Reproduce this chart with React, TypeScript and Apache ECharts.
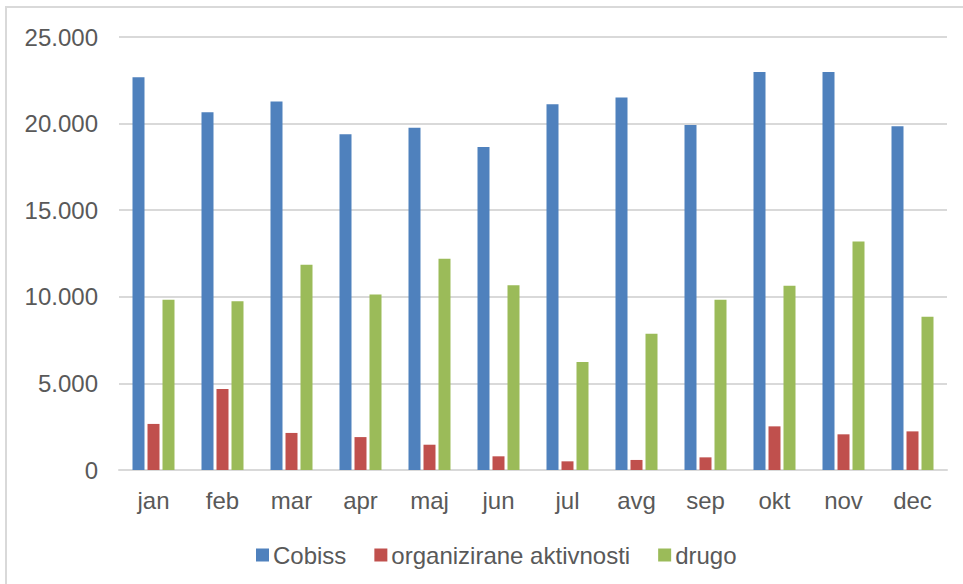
import React, { useEffect, useRef } from "react";
import * as echarts from "echarts";

const months = ["jan", "feb", "mar", "apr", "maj", "jun", "jul", "avg", "sep", "okt", "nov", "dec"];
const cobiss = [22670, 20650, 21270, 19380, 19760, 18650, 21110, 21500, 19920, 22980, 22980, 19840];
const organizirane = [2660, 4680, 2140, 1900, 1460, 790, 500, 580, 730, 2520, 2060, 2230];
const drugo = [9830, 9750, 11850, 10140, 12190, 10660, 6230, 7870, 9830, 10640, 13200, 8850];
const seriesNames = ["Cobiss", "organizirane aktivnosti", "drugo"];

const FONT = "'Liberation Sans', Arial, sans-serif";
const TXT = "#595959";

export default function App() {
  const ref = useRef<HTMLDivElement>(null);
  useEffect(() => {
    if (!ref.current) return;
    const chart = echarts.init(ref.current, null, { renderer: "svg" });
    const fmt = (v: number) => String(v).replace(/\B(?=(\d{3})+(?!\d))/g, ".");
    chart.setOption({
      animation: false,
      textStyle: { fontFamily: FONT },
      graphic: [
        {
          type: "polyline",
          shape: { points: [[6, 600], [6, 7], [1000, 7]] },
          style: { stroke: "#d9d9d9", lineWidth: 2, fill: null },
          silent: true,
        },
      ],
      grid: { left: 119, right: 16, top: 37, bottom: 114 },
      legend: {
        data: seriesNames,
        left: 251,
        top: 538,
        icon: "rect",
        itemWidth: 13,
        itemHeight: 13,
        itemGap: 28,
        textStyle: { fontSize: 24, color: TXT, fontFamily: FONT, padding: [0, 0, 0, -1] },
      },
      xAxis: {
        type: "category",
        data: months,
        axisLine: { lineStyle: { color: "#d9d9d9", width: 2 } },
        axisTick: { show: false },
        axisLabel: { fontSize: 24, color: TXT, margin: 18, fontFamily: FONT },
      },
      yAxis: {
        type: "value",
        min: 0,
        max: 25000,
        interval: 5000,
        axisLine: { show: false },
        axisTick: { show: false },
        splitLine: { lineStyle: { color: "#d9d9d9", width: 2 } },
        axisLabel: { fontSize: 24, color: TXT, margin: 21, fontFamily: FONT, formatter: fmt },
      },
      series: [
        { name: seriesNames[0], type: "bar", data: cobiss, barWidth: 12, barGap: "25%", itemStyle: { color: "#4f81bd" } },
        { name: seriesNames[1], type: "bar", data: organizirane, barWidth: 12, barGap: "25%", itemStyle: { color: "#c0504d" } },
        { name: seriesNames[2], type: "bar", data: drugo, barWidth: 12, barGap: "25%", itemStyle: { color: "#9bbb59" } },
      ],
    });
    return () => chart.dispose();
  }, []);
  return <div ref={ref} style={{ width: 963, height: 584, position: "absolute", left: 0, top: 0, background: "#fff" }} />;
}
